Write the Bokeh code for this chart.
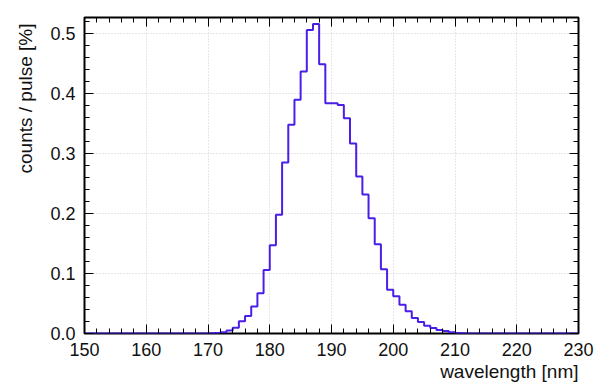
from bokeh.plotting import figure
from bokeh.models import (Range1d, LinearAxis, SingleIntervalTicker, Title,
                          CustomJSTickFormatter, NumeralTickFormatter)
from bokeh.embed import file_html
from bokeh.resources import INLINE

# ---- data (1 nm bins, left edges 150..229) ----
bin_left = list(range(150, 230))
counts_tail_left = [0.0] * 20  # 150..169
counts_peak = [0.0003, 0.0008, 0.002, 0.005, 0.0095, 0.0205, 0.029, 0.045, 0.067, 0.106,   # 170-179
               0.147, 0.198, 0.285, 0.348, 0.390, 0.437, 0.506, 0.516, 0.449, 0.384,      # 180-189
               0.384, 0.381, 0.359, 0.317, 0.262, 0.232, 0.192, 0.149, 0.107, 0.073,      # 190-199
               0.062, 0.048, 0.037, 0.026, 0.019, 0.013, 0.009, 0.006, 0.004, 0.002,      # 200-209
               0.001, 0.0005]                                                              # 210-211
counts_tail_right = [0.0] * 18  # 212..229
counts = counts_tail_left + counts_peak + counts_tail_right

x_label = "wavelength [nm]"
y_label = "counts / pulse [%]"

FONT = "Liberation Sans"

p = figure(width=606, height=389, output_backend="svg", toolbar_location=None,
           x_range=Range1d(150, 230), y_range=Range1d(0, 0.527),
           min_border_left=84, min_border_right=28, min_border_top=17, min_border_bottom=56,
           background_fill_color="white", border_fill_color="white")

p.outline_line_color = "black"
p.outline_line_width = 2

xt = SingleIntervalTicker(interval=10, num_minor_ticks=5)
yt = SingleIntervalTicker(interval=0.1, num_minor_ticks=5)
p.xaxis.ticker = xt
p.yaxis.ticker = yt
p.yaxis.formatter = NumeralTickFormatter(format="0.0")

for ax in (p.xaxis[0], p.yaxis[0]):
    ax.axis_line_color = None
    ax.major_tick_in = 9
    ax.major_tick_out = 0
    ax.minor_tick_in = 5
    ax.minor_tick_out = 0
    ax.major_tick_line_color = "black"
    ax.minor_tick_line_color = "black"
    ax.major_label_text_font = FONT
    ax.major_label_text_font_size = "18px"
    ax.major_label_text_color = "#111111"
p.xaxis.major_label_standoff = 9
p.yaxis.major_label_standoff = 9

blank = CustomJSTickFormatter(code="return ''")
for side, t in (("right", yt), ("above", xt)):
    ax = LinearAxis(ticker=t, formatter=blank, axis_line_color=None,
                    major_tick_in=9, major_tick_out=0, minor_tick_in=5, minor_tick_out=0,
                    major_tick_line_color="black", minor_tick_line_color="black",
                    major_label_text_font_size="0px", major_label_standoff=0)
    p.add_layout(ax, side)

p.xgrid.grid_line_color = "#cfcfcf"
p.ygrid.grid_line_color = "#cfcfcf"
p.xgrid.grid_line_dash = "1 2"
p.ygrid.grid_line_dash = "1 2"

xs = bin_left + [230]
ys = counts + [counts[-1]]
p.step(xs, ys, mode="after", line_color="#4a1ee8", line_width=2)

# axis titles, right-aligned (x) and top-aligned (y)
p.add_layout(Title(text=x_label, align="right", text_font=FONT, text_font_size="19px",
                   text_font_style="normal", text_color="#111111", standoff=0, offset=0),
             "below")
p.add_layout(Title(text=y_label, align="right", text_font=FONT, text_font_size="19px",
                   text_font_style="normal", text_color="#111111", standoff=23, offset=6),
             "left")

open("out.html", "w").write(file_html(p, INLINE))
